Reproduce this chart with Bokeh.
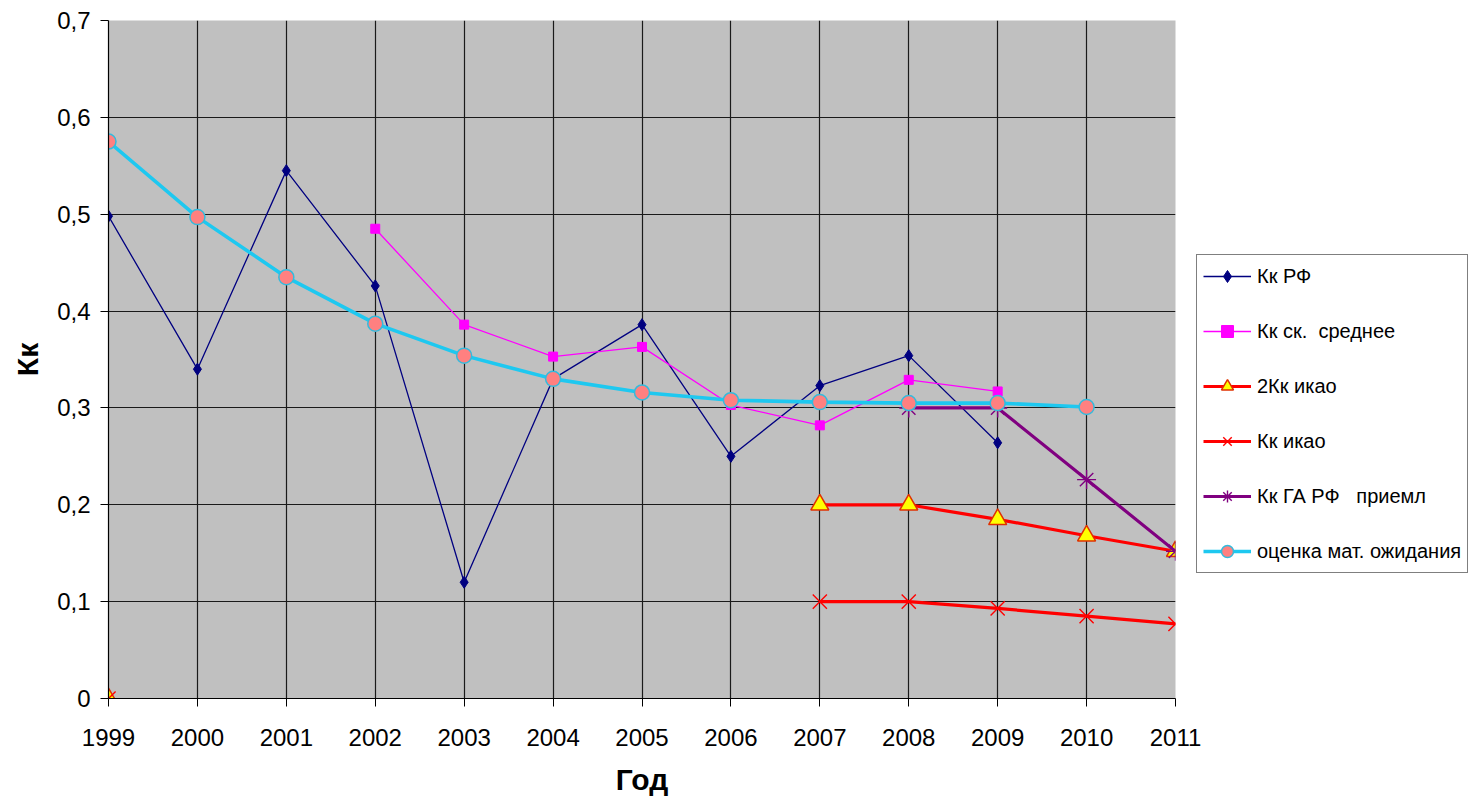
import math
from bokeh.plotting import figure
from bokeh.models import (Range1d, FixedTicker, CustomJSTickFormatter, Legend, LegendItem)
from bokeh.embed import file_html
from bokeh.resources import INLINE

nan = float("nan")

years = [1999, 2000, 2001, 2002, 2003, 2004, 2005, 2006, 2007, 2008, 2009, 2010, 2011]
y_ticks = [0, 0.1, 0.2, 0.3, 0.4, 0.5, 0.6, 0.7]

kk_rf = [0.498, 0.340, 0.545, 0.426, 0.120, 0.330, 0.386, 0.250, 0.323, 0.354, 0.264, nan, nan]
kk_sk = [nan, nan, nan, 0.485, 0.386, 0.353, 0.363, 0.303, 0.282, 0.329, 0.317, nan, nan]
kk2_icao = [0.0, nan, nan, nan, nan, nan, nan, nan, 0.200, 0.200, 0.185, 0.168, 0.152]
kk_icao = [0.0, nan, nan, nan, nan, nan, nan, nan, 0.100, 0.100, 0.093, 0.085, 0.077]
kk_ga = [nan, nan, nan, nan, nan, nan, nan, nan, nan, 0.300, 0.300, 0.226, 0.152]
mat_exp = [0.575, 0.497, 0.435, 0.387, 0.354, 0.330, 0.316, 0.308, 0.306, 0.305, 0.305, 0.301, nan]

names = ["Кк РФ", "Кк ск.  среднее", "2Кк икао", "Кк икао", "Кк ГА РФ   приемл", "оценка мат. ожидания"]

FONT = "Liberation Sans"

p = figure(width=1468, height=790, output_backend="svg", toolbar_location=None,
           x_range=Range1d(1999, 2011), y_range=Range1d(0, 0.7),
           min_border_left=108, min_border_right=10, min_border_top=20, min_border_bottom=92)
p.frame_width = 1067
p.frame_height = 678

p.background_fill_color = "#C0C0C0"
p.border_fill_color = "white"
p.outline_line_color = None

p.xaxis.ticker = FixedTicker(ticks=years)
p.yaxis.ticker = FixedTicker(ticks=y_ticks)
p.yaxis.formatter = CustomJSTickFormatter(code="""
var s = tick.toFixed(1).replace('.', ',');
if (s == '0,0') { s = '0'; }
return s;
""")
p.xgrid.ticker = FixedTicker(ticks=years[:-1])
for g in (p.xgrid, p.ygrid):
    g.grid_line_color = "#1a1a1a"
    g.grid_line_width = 1.2
    g.grid_line_alpha = 1

for ax in (p.xaxis, p.yaxis):
    ax.axis_line_color = "black"
    ax.axis_line_width = 1.2
    ax.major_tick_line_color = "black"
    ax.major_tick_out = 8
    ax.major_tick_in = 0
    ax.minor_tick_line_color = None
    ax.major_label_text_font = FONT
    ax.major_label_text_font_size = "24px"
    ax.major_label_text_color = "black"
    ax.axis_label_text_font = FONT
    ax.axis_label_text_font_size = "30px"
    ax.axis_label_text_font_style = "bold"
    ax.axis_label_text_color = "black"

p.xaxis.axis_label = "Год"
p.yaxis.axis_label = "Кк"
p.xaxis.major_label_standoff = 22
p.yaxis.major_label_standoff = 10
p.xaxis.axis_label_standoff = 14
p.yaxis.axis_label_standoff = 10

items = []

def series(vals, name, lcolor, lwidth, marker, msize, fill, mline, mwidth=1.0):
    r1 = p.line(years, vals, line_color=lcolor, line_width=lwidth)
    r2 = p.scatter(years, vals, marker=marker, size=msize, fill_color=fill,
                   line_color=mline, line_width=mwidth)
    items.append(LegendItem(label=name, renderers=[r1, r2]))

series(kk_rf, names[0], "#000080", 1.3, "diamond", 12, "#000080", "#000080")
series(kk_sk, names[1], "#FF00FF", 1.3, "square", 9, "#FF00FF", "#FF00FF")
series(kk2_icao, names[2], "#FF0000", 3.2, "triangle", 18, "#FFFF00", "#E03000", 1.5)
series(kk_icao, names[3], "#FF0000", 3.2, "x", 20, None, "#FF0000", 1.4)
series(kk_ga, names[4], "#800080", 3.2, "asterisk", 19, None, "#800080", 1.4)
series(mat_exp, names[5], "#1EC8F0", 3.6, "circle", 15, "#FF8080", "#33BBDD", 1.5)

legend = Legend(items=items, location=(21, 125))
legend.border_line_color = "black"
legend.border_line_width = 1.2
legend.background_fill_color = "white"
legend.background_fill_alpha = 1
legend.label_text_font = FONT
legend.label_text_font_size = "20px"
legend.label_text_color = "black"
legend.glyph_width = 48
legend.glyph_height = 30
legend.spacing = 25
legend.padding = 6
legend.margin = 0
legend.label_standoff = 6
p.add_layout(legend, "right")

open("out.html", "w").write(file_html(p, INLINE))
